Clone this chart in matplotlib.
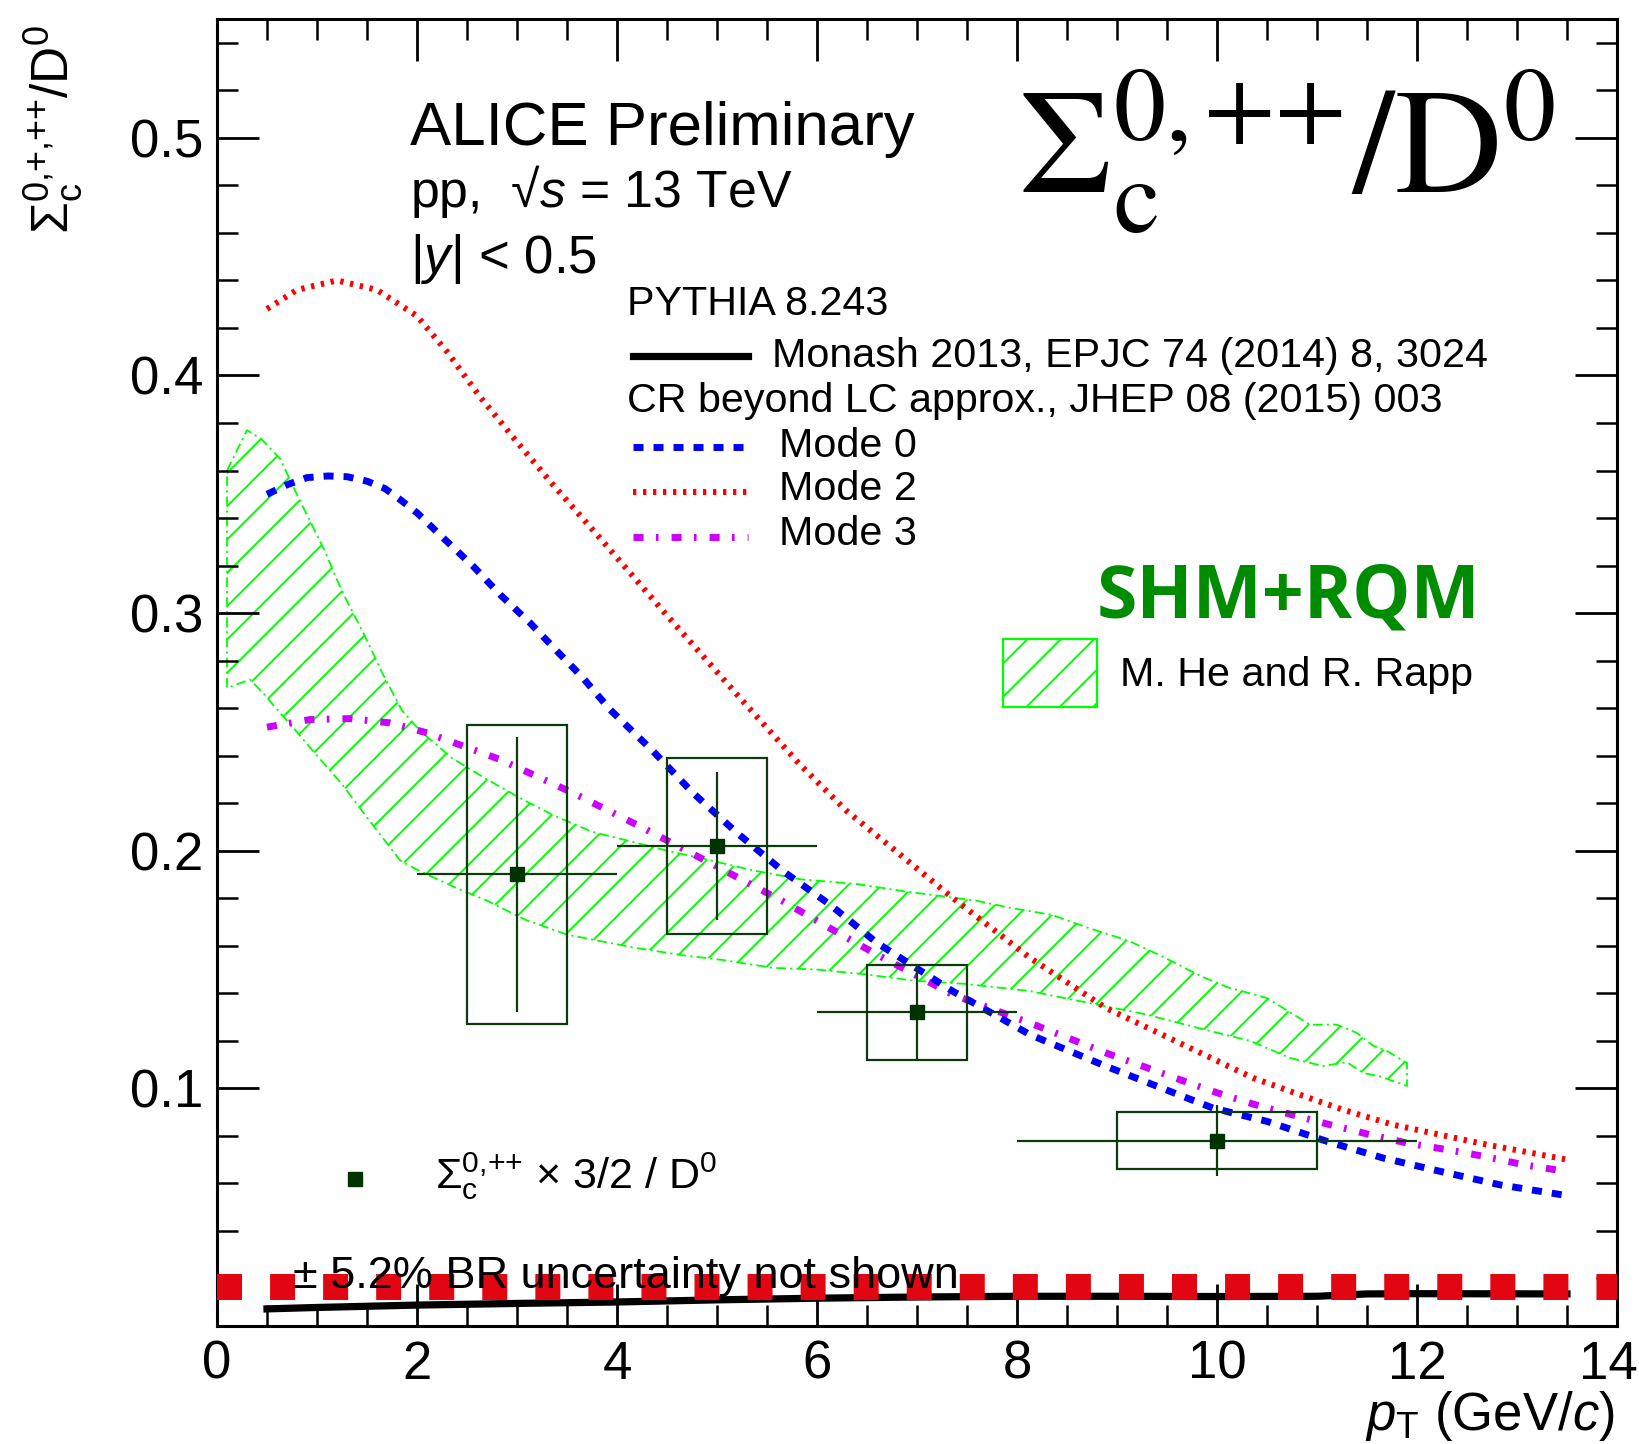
import numpy as np
import matplotlib.pyplot as plt
from matplotlib.lines import Line2D
from matplotlib.patches import Rectangle
from matplotlib.ticker import MultipleLocator
from matplotlib.transforms import ScaledTranslation

plt.rcParams['font.family'] = ['Liberation Sans', 'DejaVu Sans']
plt.rcParams['mathtext.fontset'] = 'custom'
plt.rcParams['mathtext.rm'] = 'Liberation Sans'
plt.rcParams['mathtext.it'] = 'Liberation Sans:italic'
plt.rcParams['mathtext.bf'] = 'Liberation Sans:bold'
plt.rcParams['lines.scale_dashes'] = False
plt.rcParams['hatch.linewidth'] = 1.4

# measured Sigma_c(0,++) x 3/2 / D0
pt = [3.0, 5.0, 7.0, 10.0]
pt_halfwidth = [1.0, 1.0, 1.0, 2.0]
box_halfwidth = [0.5, 0.5, 0.5, 1.0]
ratio = [0.190, 0.202, 0.132, 0.078]
stat_err = [0.058, 0.031, 0.020, 0.015]
syst_err = [0.063, 0.037, 0.020, 0.012]

# PYTHIA 8 Monash
monash_pt = [0.5, 1.0, 2.0, 3.0, 4.0, 5.0, 6.0, 7.0, 8.0, 9.0, 10.0, 11.0, 11.5, 12.0, 13.5]
monash = [0.0072, 0.0078, 0.0088, 0.0095, 0.0101, 0.0110, 0.0117, 0.0122, 0.0125,
          0.0125, 0.0124, 0.0125, 0.0135, 0.0136, 0.0135]

# PYTHIA 8 CR Mode 0
mode0_pt = [0.5, 0.7, 0.9, 1.11, 1.3, 1.5, 1.68, 1.83, 2.0, 2.26, 2.56, 2.83, 3.13, 3.4,
            3.66, 3.93, 4.36, 4.76, 5.2, 5.66, 6.13, 6.6, 7.36, 8.13, 8.89, 9.66, 9.96,
            10.5, 11.1, 11.66, 12.23, 12.83, 13.45]
mode0 = [0.350, 0.354, 0.357, 0.3577, 0.3574, 0.3555, 0.3524, 0.3478, 0.3422, 0.3317,
         0.3198, 0.3078, 0.2959, 0.284, 0.2727, 0.2594, 0.2419, 0.2243, 0.2075, 0.1914,
         0.1773, 0.1612, 0.1408, 0.1226, 0.1093, 0.0966, 0.0917, 0.0861, 0.0777, 0.0707,
         0.0651, 0.0594, 0.0552]

# PYTHIA 8 CR Mode 2
mode2_pt = [0.5, 0.8, 1.2, 1.6, 2.0, 2.3, 2.63, 3.0, 3.36, 3.8, 4.5, 5.23, 5.83, 6.3,
            6.79, 7.36, 8.13, 8.89, 9.66, 10.36, 10.83, 11.26, 11.76, 12.23, 12.7, 13.1, 13.5]
mode2 = [0.428, 0.436, 0.440, 0.436, 0.425, 0.410, 0.391, 0.372, 0.354, 0.333, 0.299,
         0.2643, 0.2362, 0.2166, 0.1998, 0.180, 0.1549, 0.1338, 0.1184, 0.1044, 0.0973,
         0.091, 0.0847, 0.0805, 0.0763, 0.0732, 0.070]

# PYTHIA 8 CR Mode 3
mode3_pt = [0.5, 0.93, 1.33, 1.73, 2.1, 2.83, 3.56, 4.26, 4.96, 5.66, 6.3, 6.6, 7.36,
            8.13, 8.89, 9.66, 9.99, 10.36, 10.75, 11.13, 11.53, 11.9, 12.3, 12.67, 13.06, 13.5]
mode3 = [0.252, 0.2552, 0.2556, 0.2538, 0.2496, 0.2384, 0.2243, 0.2096, 0.1942, 0.1787,
         0.1633, 0.1563, 0.1394, 0.1275, 0.1149, 0.1032, 0.0983, 0.0934, 0.0889, 0.0847,
         0.0805, 0.077, 0.0742, 0.0714, 0.0679, 0.065]

# SHM+RQM band (He, Rapp)
shm_up_pt = [0.1, 0.3, 0.45, 0.63, 0.81, 0.95, 1.08, 1.2, 1.3, 1.46, 1.65, 1.85, 2.03,
             2.35, 2.7, 3.06, 3.36, 3.75, 4.13, 4.5, 4.83, 5.33, 5.83, 6.4, 6.86, 7.59,
             7.93, 8.35, 8.7, 9.12, 9.43, 9.85, 10.11, 10.5, 10.93, 11.2, 11.4, 11.56,
             11.7, 11.9]
shm_up = [0.360, 0.377, 0.373, 0.365, 0.349, 0.337, 0.326, 0.314, 0.305, 0.292, 0.275,
          0.259, 0.2505, 0.239, 0.230, 0.2215, 0.215, 0.208, 0.204, 0.200, 0.197, 0.192,
          0.188, 0.186, 0.183, 0.179, 0.176, 0.173, 0.1677, 0.162, 0.156, 0.147, 0.1425,
          0.138, 0.1268, 0.1268, 0.1233, 0.118, 0.1157, 0.1107]
shm_lo_pt = [0.1, 0.33, 0.46, 0.63, 0.75, 1.0, 1.25, 1.5, 1.83, 2.0, 2.41, 2.7, 3.08,
             3.5, 3.83, 4.2, 4.66, 5.06, 5.56, 6.0, 6.48, 6.97, 7.47, 8.12, 8.77, 9.27,
             9.85, 10.33, 10.73, 11.06, 11.3, 11.46, 11.63, 11.9]
shm_lo = [0.2685, 0.272, 0.2664, 0.258, 0.2524, 0.240, 0.228, 0.214, 0.196, 0.192,
          0.184, 0.179, 0.171, 0.1647, 0.162, 0.159, 0.156, 0.154, 0.1507, 0.150, 0.148,
          0.1453, 0.144, 0.141, 0.1355, 0.1313, 0.125, 0.120, 0.1128, 0.1094, 0.111,
          0.1065, 0.105, 0.101]

# BR uncertainty strip along the bottom
br_pt = [0.0, 14.0]
br_level = [0.0165, 0.0165]

x_ticks = [0, 2, 4, 6, 8, 10, 12, 14]
y_ticks = [0.1, 0.2, 0.3, 0.4, 0.5]

data_col = '#003300'
box_col = '#0b3b0b'
lime = '#00ff00'
style_m0 = dict(color='#0000ff', lw=5.0, linestyle=(0, (7.2, 7.2)), dash_capstyle='butt')
style_m2 = dict(color='#ff0000', lw=4.3, linestyle=(0, (2.4, 4.8)), dash_capstyle='butt')
style_m3 = dict(color='#cc00ff', lw=5.0, linestyle=(0, (7.2, 8.9, 1.9, 9.4)),
                dash_capstyle='butt')
style_mon = dict(color='black', lw=5.2)

fig = plt.figure(figsize=(16.39, 14.44), dpi=100)
ax = fig.add_axes([217 / 1639, 1 - 1326 / 1444, 1400 / 1639, 1307 / 1444])


def fpos(x, y):
    # pixel position on the canvas -> figure fraction
    return x / 1639, 1 - y / 1444


# model band
bx = np.concatenate([shm_up_pt, shm_lo_pt[::-1], shm_up_pt[:1]])
by = np.concatenate([shm_up, shm_lo[::-1], shm_up[:1]])
ax.fill(bx, by, facecolor='none', edgecolor=lime, hatch='/', linewidth=0, zorder=1)
ax.plot(bx, by, color=lime, lw=1.3, linestyle=(0, (7, 3, 1.5, 3)), zorder=1)

ax.plot(mode2_pt, mode2, zorder=3, **style_m2)
ax.plot(mode3_pt, mode3, zorder=3, **style_m3)
ax.plot(mode0_pt, mode0, zorder=3, **style_m0)
ax.plot(monash_pt, monash, zorder=3, **style_mon)

# systematic boxes and statistical bars
for x, r, bw, sy in zip(pt, ratio, box_halfwidth, syst_err):
    ax.add_patch(Rectangle((x - bw, r - sy), 2 * bw, 2 * sy, facecolor='none',
                           edgecolor=box_col, lw=1.6, zorder=4))
ax.errorbar(pt, ratio, xerr=pt_halfwidth, yerr=stat_err, fmt='s', ms=10,
            color=data_col, ecolor=box_col, elinewidth=1.6, capsize=0, zorder=5)

fig.text(*fpos(293, 1288), '± 5.2% BR uncertainty not shown', fontsize=32.5, zorder=3)
ax.plot(br_pt, br_level, color='#e20613', lw=18.7, linestyle=(0, (18, 20.2)),
        dash_capstyle='butt', zorder=6)

ax.set_xlim(0, 14)
ax.set_ylim(0, 0.55)
ax.set_xticks(x_ticks)
ax.set_xticklabels([str(v) for v in x_ticks])
ax.xaxis.set_minor_locator(MultipleLocator(0.5))
ax.set_yticks(y_ticks)
ax.set_yticklabels([f'{v:.1f}' for v in y_ticks])
ax.yaxis.set_minor_locator(MultipleLocator(0.02))
ax.tick_params(which='both', direction='in', top=True, right=True, labelsize=38)
ax.tick_params(which='major', length=30, width=2.0)
ax.tick_params(which='minor', length=15, width=1.8)
ax.tick_params(axis='x', pad=10)
ax.tick_params(axis='y', pad=10)
for s in ax.spines.values():
    s.set_linewidth(2.2)

# last x label sits on the canvas edge, nudge it inwards
last = ax.xaxis.get_major_ticks()[-1].label1
last.set_transform(last.get_transform() + ScaledTranslation(-0.09, 0, fig.dpi_scale_trans))

fig.text(0.0326, 1 - 25 / 1444, r'$\Sigma_{\mathrm{c}}^{0{,}{+}{,}{+}{+}}$/D$^{0}$',
         rotation=90, ha='center', va='top', fontsize=37)
fig.text(*fpos(1615, 1430), r'$p_{\mathrm{T}}$ (GeV/$c$)', ha='right', va='baseline',
         fontsize=38)

fig.text(*fpos(410, 145), 'ALICE Preliminary', fontsize=44.5)
fig.text(*fpos(410, 207), 'pp,  √$s$ = 13 TeV', fontsize=37.3)
fig.text(*fpos(410, 273), '|$y$| < 0.5', fontsize=38)

fig.text(*fpos(1018, 193), r'$\Sigma_{\mathrm{c}}^{0{,}\,{+}{+}}/\mathrm{D}^{0}$',
         fontsize=107, math_fontfamily='stix')

# PYTHIA legend
fig.text(*fpos(627, 315), 'PYTHIA 8.243', fontsize=29.7)
fig.text(*fpos(772, 367), 'Monash 2013, EPJC 74 (2014) 8, 3024', fontsize=29.7)
fig.text(*fpos(627, 412), 'CR beyond LC approx., JHEP 08 (2015) 003', fontsize=29.7)
fig.text(*fpos(779, 457), 'Mode 0', fontsize=29.7)
fig.text(*fpos(779, 500), 'Mode 2', fontsize=29.7)
fig.text(*fpos(779, 545), 'Mode 3', fontsize=29.7)
for yy, st in [(356, style_mon), (447, style_m0), (492, style_m2), (537, style_m3)]:
    x0, y0 = fpos(633, yy)
    x1, _ = fpos(748, yy)
    fig.add_artist(Line2D([x0, x1], [y0, y0], transform=fig.transFigure, **st))

# model legend
fig.text(*fpos(1480, 618), 'SHM+RQM', fontsize=52.8, family='Open Sans', weight='bold',
         color='#008c00', ha='right')
bx0, by0 = fpos(1003, 707)
fig.add_artist(Rectangle((bx0, by0), 94 / 1639, 68 / 1444, transform=fig.transFigure,
                         facecolor='none', edgecolor=lime, hatch='/', lw=1.6))
fig.text(*fpos(1120, 686), 'M. He and R. Rapp', fontsize=29.7)

# data legend
mx, my = fpos(355, 1179)
fig.add_artist(Line2D([mx], [my], marker='s', ms=10, color=data_col, linestyle='none',
                      transform=fig.transFigure))
fig.text(*fpos(435, 1188), r'$\Sigma_{\mathrm{c}}^{0{,}{+}{+}}$ × 3/2 / D$^{0}$',
         fontsize=31)

fig.savefig('out.png', dpi=100)
